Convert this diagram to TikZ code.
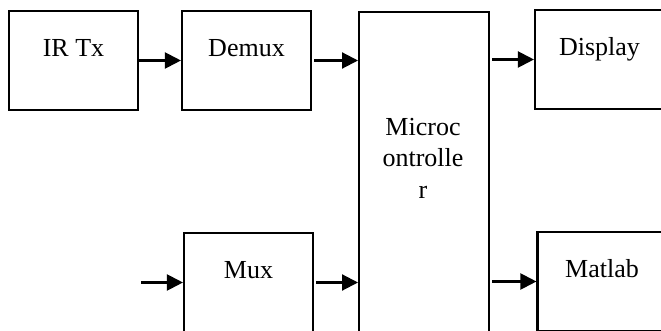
\documentclass[tikz,border=0pt]{standalone}
\usepackage{fontspec}
\setmainfont{Liberation Serif}
\usetikzlibrary{arrows.meta}

\tikzset{
  blk/.style={draw, line width=1.6pt, minimum width=96.75pt, minimum height=74.25pt,
    text height=14pt, text depth=19.25pt, inner sep=0pt},
  sig/.style={line width=1.6pt, -{Triangle[length=12pt,width=12pt]}, shorten <=1.5pt}
}

\begin{document}
\begin{tikzpicture}[x=0.75pt, y=-0.75pt, font=\fontsize{19.5}{23.6}\selectfont]
  \useasboundingbox (0,0) rectangle (661,331);
  \clip (0,0) rectangle (661,331);

  \node[blk] (irtx) at (73.5,60.5) {IR Tx};
  \node[blk] (demux) at (246.5,60.5) {Demux};
  \node[blk] (mux) at (248.5,282.5) {Mux};
  \node[blk] (display) at (599.5,59.5) {Display};
  \node[blk] (matlab) at (602,281.5) {Matlab};
  \node[draw, line width=1.6pt, minimum width=97.5pt, minimum height=262.5pt, anchor=north west]
    (micro) at (358,11) {};
  \node[align=center] (microtxt) at (423,158) {Microc\\ontrolle\\r};
  \coordinate (in) at (139,282.5);

  \draw[sig, shorten <=0pt] (irtx) -- (demux);
  \draw[sig] (demux) -- (demux -| micro.west);
  \draw[sig] (in) -- (mux);
  \draw[sig] (mux) -- (mux -| micro.west);
  \draw[sig] (micro.east |- display) -- (display);
  \draw[sig] (micro.east |- matlab) -- (matlab);
\end{tikzpicture}
\end{document}
